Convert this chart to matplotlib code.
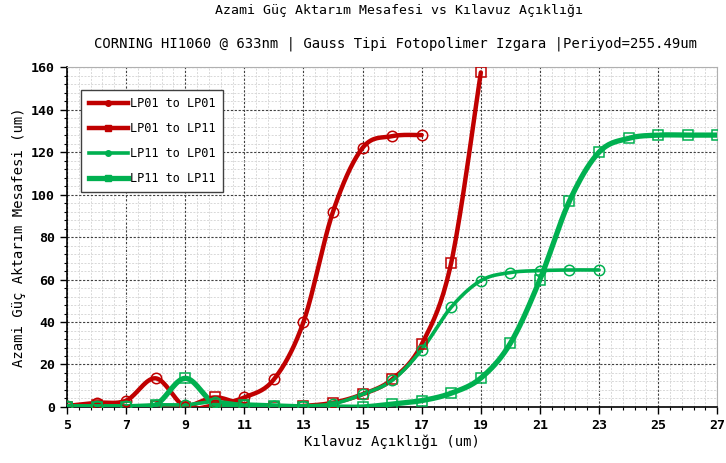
import numpy as np
import matplotlib.pyplot as plt
from matplotlib.ticker import FixedLocator

plt.rcParams['font.family'] = ['DejaVu Sans Mono']

# data (x = Kilavuz Acikligi, um)
x_lp01_lp01 = [5, 6, 7, 8, 9, 10, 11, 12, 13, 14, 15, 16, 17]
y_lp01_lp01 = [0.5, 2, 3, 13.5, 0, 1, 4.5, 13, 40, 92, 122, 127.5, 128]

x_lp01_lp11 = [5, 6, 7, 8, 9, 10, 11, 12, 13, 14, 15, 16, 17, 18, 19]
y_lp01_lp11 = [0, 1, 0, 0.5, 0, 4.5, 1, 0, 0.5, 2, 6, 13, 29.5, 68, 157.5]

x_lp11_lp01 = [5, 6, 7, 8, 9, 10, 11, 12, 13, 14, 15, 16, 17, 18, 19, 20, 21, 22, 23]
y_lp11_lp01 = [0.5, 0.5, 0.5, 1, 1, 2.5, 1, 0.5, 0.5, 1.5, 6, 12.5, 27, 47, 59.5, 63.3, 64.2, 64.5, 64.5]

x_lp11_lp11 = [5, 6, 7, 8, 9, 10, 11, 12, 13, 14, 15, 16, 17, 18, 19, 20, 21, 22, 23, 24, 25, 26, 27]
y_lp11_lp11 = [0, 0, 0, 1, 13.5, 1.5, 1, 0.5, 0, 0, 0, 1.4, 3, 6.5, 13.6, 30, 60, 97, 120, 126.5, 128, 128, 128]

x_ticks = [5, 7, 9, 11, 13, 15, 17, 19, 21, 23, 25, 27]

red = '#C00000'
green = '#00B050'


def smooth(xs, ys, n=20):
    # bezier smoothing like a spreadsheet "smoothed line"
    p = np.column_stack([xs, ys]).astype(float)
    p = np.vstack([p[0], p, p[-1]])
    out = []
    for i in range(1, len(p) - 2):
        p0, p1, p2, p3 = p[i - 1], p[i], p[i + 1], p[i + 2]
        c1 = p1 + (p2 - p0) / 6
        c2 = p2 - (p3 - p1) / 6
        t = np.linspace(0, 1, n)[:, None]
        seg = (1 - t) ** 3 * p1 + 3 * (1 - t) ** 2 * t * c1 + 3 * (1 - t) * t ** 2 * c2 + t ** 3 * p2
        out.append(seg if i == 1 else seg[1:])
    out = np.vstack(out)
    return out[:, 0], out[:, 1]


fig = plt.figure(figsize=(7.26, 4.63), dpi=100)
ax = fig.add_axes([0.0923, 0.121, 0.8957, 0.734])

series = [
    (x_lp01_lp01, y_lp01_lp01, red, 3.2, 'o', 'LP01 to LP01'),
    (x_lp01_lp11, y_lp01_lp11, red, 3.2, 's', 'LP01 to LP11'),
    (x_lp11_lp01, y_lp11_lp01, green, 2.6, 'o', 'LP11 to LP01'),
    (x_lp11_lp11, y_lp11_lp11, green, 3.8, 's', 'LP11 to LP11'),
]
for xs, ys, c, lw, m, lab in series:
    sx, sy = smooth(xs, ys)
    ax.plot(sx, sy, color=c, lw=lw, solid_capstyle='round', zorder=3)
    ax.plot(xs, ys, ls='none', marker=m, ms=7.5, mfc='none', mec=c, mew=1.1, zorder=4)
    ax.plot([], [], color=c, lw=lw, marker=m, ms=4, label=lab)

ax.set_xlim(5, 27)
ax.set_ylim(0, 160)
ax.xaxis.set_major_locator(FixedLocator(x_ticks))
ax.xaxis.set_minor_locator(FixedLocator(np.arange(5, 27.01, 0.4)))
ax.yaxis.set_major_locator(FixedLocator(np.arange(0, 161, 20)))
ax.yaxis.set_minor_locator(FixedLocator(np.arange(0, 161, 4)))
ax.grid(which='major', color='#404040', ls=(0, (2, 1.5)), lw=0.8)
ax.grid(which='minor', color='#d8d8d8', ls=(0, (2, 1.5)), lw=0.7)
ax.set_axisbelow(True)

for s in ['top', 'right']:
    ax.spines[s].set_color('#b0b0b0')
ax.spines['left'].set_linewidth(1.2)
ax.spines['bottom'].set_linewidth(1.2)
ax.tick_params(which='major', direction='out', length=5, width=1, labelsize=9.5)
ax.tick_params(which='minor', direction='out', length=2.5, width=0.8)
for lbl in ax.get_xticklabels() + ax.get_yticklabels():
    lbl.set_fontweight('bold')

ax.set_xlabel('Kılavuz Açıklığı (um)', fontsize=10, labelpad=2)
ax.set_ylabel('Azami Güç Aktarım Mesafesi (um)', fontsize=10, labelpad=4)

fig.text(0.55, 0.978, 'Azami Güç Aktarım Mesafesi vs Kılavuz Açıklığı',
         ha='center', va='center', fontsize=9.5)
fig.text(0.545, 0.905, 'CORNING HI1060 @ 633nm | Gauss Tipi Fotopolimer Izgara |Periyod=255.49um',
         ha='center', va='center', fontsize=10)

leg = ax.legend(loc='upper left', bbox_to_anchor=(0.013, 0.95), fontsize=8.6,
                fancybox=False, framealpha=1, edgecolor='#404040',
                handlelength=3.3, handletextpad=0.2, borderpad=0.6, labelspacing=1.0)
leg.get_frame().set_linewidth(1.0)

fig.savefig('out.png', dpi=100)
